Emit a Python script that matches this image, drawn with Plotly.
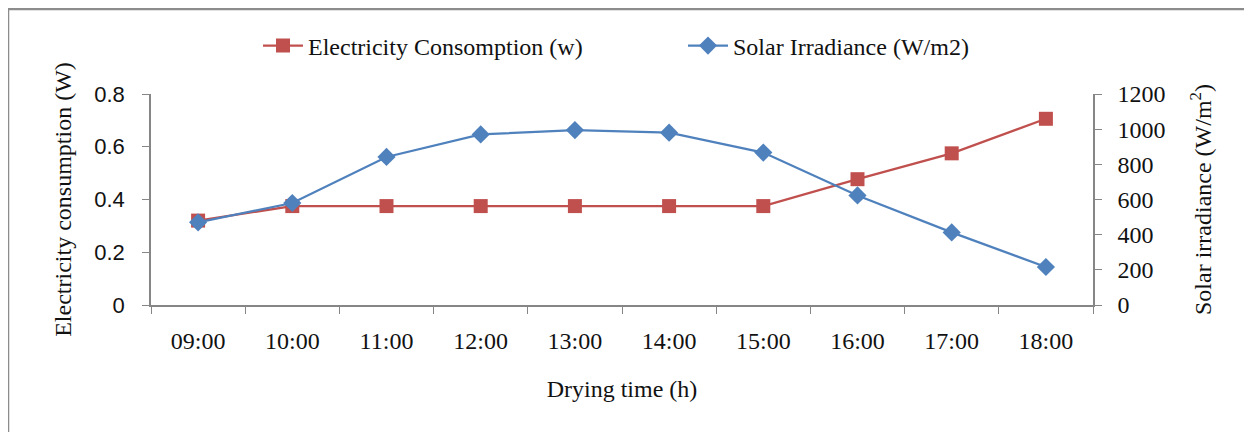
import plotly.graph_objects as go

times = ["09:00", "10:00", "11:00", "12:00", "13:00", "14:00", "15:00", "16:00", "17:00", "18:00"]
electricity = [0.32, 0.375, 0.375, 0.375, 0.375, 0.375, 0.375, 0.477, 0.575, 0.706]
irradiance = [470, 580, 842, 970, 995, 980, 867, 623, 413, 216]

RED = "#C0504D"
BLUE = "#4F81BD"
AXIS = "#868686"
TXT = "#111111"
SERIF = "Liberation Serif, Times New Roman, serif"
SANS = "Liberation Sans, Arial, sans-serif"

fig = go.Figure()
fig.add_trace(go.Scatter(
    x=times, y=electricity, name="Electricity Consomption (w)",
    mode="lines+markers", line=dict(color=RED, width=2.25),
    marker=dict(symbol="square", size=14, color=RED), yaxis="y"))
fig.add_trace(go.Scatter(
    x=times, y=irradiance, name="Solar Irradiance (W/m2)",
    mode="lines+markers", line=dict(color=BLUE, width=2.25),
    marker=dict(symbol="diamond", size=14, color=BLUE), yaxis="y2"))

# page body has an 8px margin; work in figure coordinates
OFF = 8
W, H = 1252 - OFF, 432 - OFF
L, R, T, B = 151 - OFF, 1093 - OFF, 94 - OFF, 305 - OFF
pw, ph = R - L, B - T

def px(x):
    return (x - OFF - L) / pw

def py(y):
    return (B - (y - OFF)) / ph

fig.update_layout(
    width=W, height=H,
    margin=dict(l=L, r=W - R, t=T, b=H - B, pad=0),
    paper_bgcolor="white", plot_bgcolor="white",
    showlegend=True,
    legend=dict(orientation="h", x=px(258), xanchor="left", y=py(46), yanchor="middle",
                font=dict(family=SERIF, size=24, color=TXT), bgcolor="rgba(0,0,0,0)",
                itemwidth=40, tracegroupgap=0, entrywidth=370, entrywidthmode="pixels"),
    xaxis=dict(type="category", range=[-0.5, 9.5], showline=True, linecolor=AXIS, linewidth=1.5,
               ticks="outside", ticklen=7, tickcolor=AXIS, tickson="boundaries",
               showgrid=False, zeroline=False, ticklabelstandoff=13,
               tickfont=dict(family=SERIF, size=24, color=TXT),
               title=dict(text="Drying time (h)", font=dict(family=SERIF, size=24, color=TXT),
                          standoff=28)),
    yaxis=dict(range=[0, 0.8], dtick=0.2, showline=True, linecolor=AXIS, linewidth=1.5,
               ticks="outside", ticklen=7, tickcolor=AXIS, showgrid=False, zeroline=False,
               ticklabelstandoff=13,
               tickfont=dict(family=SANS, size=22, color=TXT),
               title=dict(text="Electricity consumption (W)",
                          font=dict(family=SERIF, size=24, color=TXT), standoff=16)),
    yaxis2=dict(range=[0, 1200], dtick=200, overlaying="y", side="right",
                showline=True, linecolor=AXIS, linewidth=1.5,
                ticks="outside", ticklen=7, tickcolor=AXIS, showgrid=False, zeroline=False,
                ticklabelstandoff=11,
                tickfont=dict(family=SERIF, size=24, color=TXT),
                title=dict(text="Solar irradiance (W/m<sup>2</sup>)",
                           font=dict(family=SERIF, size=24, color=TXT), standoff=30)),
    shapes=[dict(type="rect", xref="paper", yref="paper",
                 x0=px(8), x1=px(1262), y0=py(445), y1=py(9),
                 line=dict(color="#8c8c8c", width=2.5), fillcolor="rgba(0,0,0,0)", layer="below")],
)

fig.write_html("out.html")
